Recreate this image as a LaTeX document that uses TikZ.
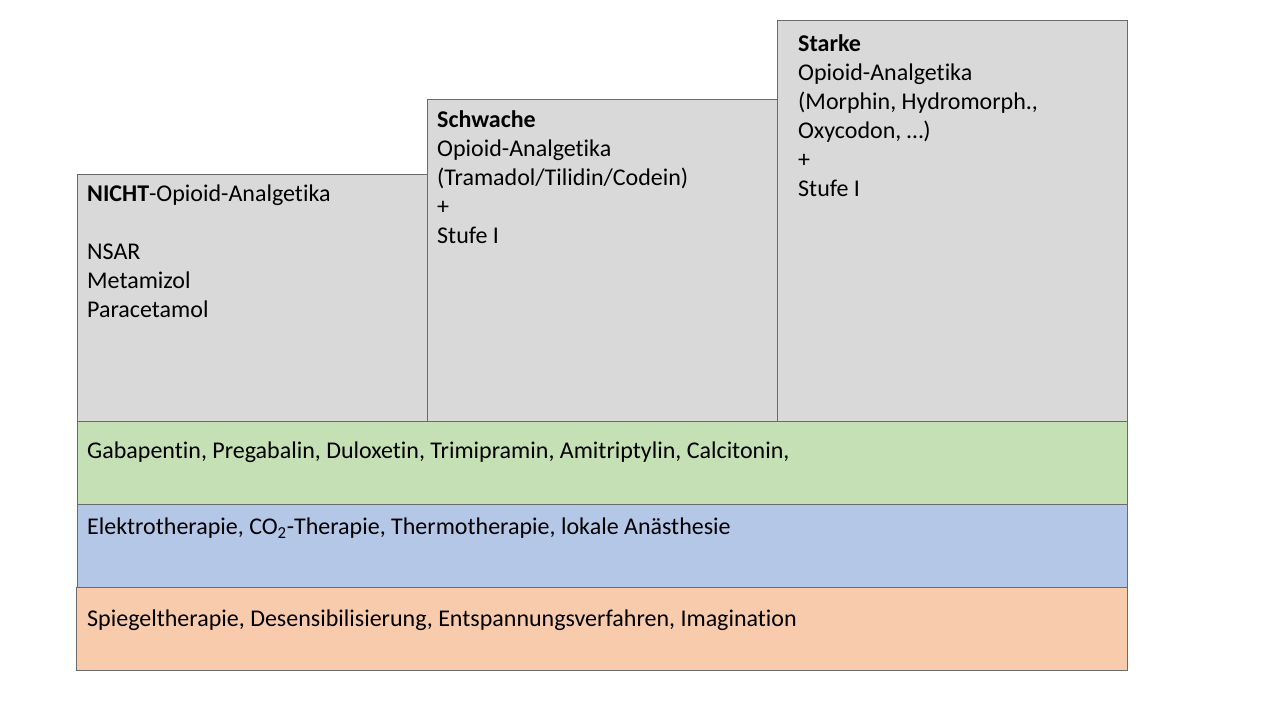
\documentclass[tikz,border=0pt]{standalone}
\usepackage{fontspec}
\setmainfont{Carlito}[Ligatures={NoCommon}]
\definecolor{boxgray}{HTML}{D9D9D9}
\definecolor{edgegray}{HTML}{6A6A6A}
\definecolor{lgreen}{HTML}{C5E0B4}
\definecolor{lblue}{HTML}{B4C7E7}
\definecolor{lorange}{HTML}{F8CBAD}
\begin{document}
\begin{tikzpicture}[x=1pt,y=-1pt,
  stage/.style={draw=edgegray,line width=0.9pt},
  txt/.style={anchor=north west,inner sep=0pt,align=left,font=\fontsize{24}{29}\selectfont}]
\useasboundingbox (0,0) rectangle (1280,720);
\fill[white] (0,0) rectangle (1280,720);
% stair boxes
\draw[stage,fill=boxgray] (77,174) rectangle (427,421);
\draw[stage,fill=boxgray] (427,99) rectangle (777,421);
\draw[stage,fill=boxgray] (777,20) rectangle (1127,421);
% layers
\draw[stage,fill=lgreen] (77,421) rectangle (1127,504);
\draw[stage,fill=lblue] (77,504) rectangle (1127,587);
\draw[stage,fill=lorange] (76,587) rectangle (1127,670);
% texts
\node[txt] (s1) at (87,185) {\textbf{NICHT}-Opioid-Analgetika\\[29pt]NSAR\\Metamizol\\Paracetamol};
\node[txt] (s2) at (437,110) {\textbf{Schwache}\\Opioid-Analgetika\\(Tramadol/Tilidin/Codein)\\+\\Stufe I};
\node[txt] (s3) at (798,34) {\textbf{Starke}\\Opioid-Analgetika\\(Morphin, Hydromorph.,\\Oxycodon, …)\\+\\Stufe I};
\node[txt] (l1) at (87,442) {Gabapentin, Pregabalin, Duloxetin, Trimipramin, Amitriptylin, Calcitonin,};
\node[txt] (l2) at (87,518) {Elektrotherapie, CO\textsubscript{2}-Therapie, Thermotherapie, lokale Anästhesie};
\node[txt] (l3) at (87,610) {Spiegeltherapie, Desensibilisierung, Entspannungsverfahren, Imagination};
\end{tikzpicture}
\end{document}
